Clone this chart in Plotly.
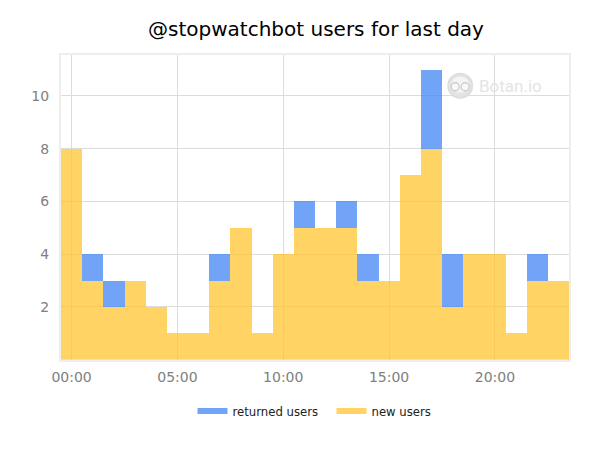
import plotly.graph_objects as go

hours = list(range(24))
new_users = [8, 3, 2, 3, 2, 1, 1, 3, 5, 1, 4, 5, 5, 5, 3, 3, 7, 8, 2, 4, 4, 1, 3, 3]
returned_users = [0, 1, 1, 0, 0, 0, 0, 1, 0, 0, 0, 1, 0, 1, 1, 0, 0, 3, 2, 0, 0, 0, 1, 0]
x_ticks = [0, 5, 10, 15, 20]
x_labels = ["00:00", "05:00", "10:00", "15:00", "20:00"]
y_ticks = [2, 4, 6, 8, 10]

BLUE = "rgba(66,133,244,0.75)"
YELLOW = "rgba(255,198,50,0.75)"
FONT = "DejaVu Sans"

# page body has an 8px margin, so the figure is 8px smaller than the window
W, H = 592, 442

fig = go.Figure()

# stacked bars, returned users sit on top of the new ones
fig.add_trace(go.Bar(x=hours, y=new_users, marker=dict(color=YELLOW, line_width=0), showlegend=False))
fig.add_trace(go.Bar(x=hours, y=returned_users, marker=dict(color=BLUE, line_width=0), showlegend=False))

# bar legend swatches are small squares, fill items come out wider like the original
fig.add_trace(go.Scatter(x=[None], y=[None], mode="none", fill="toself", fillcolor=BLUE, name="returned users"))
fig.add_trace(go.Scatter(x=[None], y=[None], mode="none", fill="toself", fillcolor=YELLOW, name="new users"))

fig.update_layout(
    barmode="stack",
    bargap=0,
    width=W,
    height=H,
    margin=dict(l=53, r=31, t=47, b=87),
    paper_bgcolor="white",
    plot_bgcolor="white",
    font=dict(family=FONT),
    title=dict(
        text="@stopwatchbot users for last day",
        font=dict(family=FONT, size=20, color="black"),
        x=308 / W,
        xanchor="center",
        y=1 - 21 / H,
        yanchor="middle",
    ),
    legend=dict(
        orientation="h",
        x=323.5 / W,
        xref="container",
        xanchor="center",
        y=1 - 403 / H,
        yref="container",
        yanchor="middle",
        font=dict(family=FONT, size=11.7, color="#222222"),
        traceorder="normal",
        itemwidth=30,
        entrywidth=94,
        entrywidthmode="pixels",
    ),
)

fig.update_xaxes(
    range=[-0.5, 23.5],
    tickvals=x_ticks,
    ticktext=x_labels,
    tickfont=dict(family=FONT, size=14, color="#808080"),
    ticklabelstandoff=3,
    showgrid=True,
    gridcolor="#dcdcdc",
    gridwidth=1,
    zeroline=False,
    showline=True,
    mirror=True,
    linecolor="#eeeeee",
    linewidth=2,
    ticks="",
    ticklen=0,
)
fig.update_yaxes(
    range=[0, 11.55],
    tickvals=y_ticks,
    tickfont=dict(family=FONT, size=14, color="#808080"),
    ticklabelstandoff=7,
    showgrid=True,
    gridcolor="#dcdcdc",
    gridwidth=1,
    zeroline=False,
    showline=True,
    mirror=True,
    linecolor="#eeeeee",
    linewidth=2,
    ticks="",
    ticklen=0,
)

# Botan.io watermark
mark_x = (461 - 61) / 509
mark_y = (361 - 85) / 307
fig.add_shape(
    type="rect",
    xref="paper", yref="paper",
    xsizemode="pixel", ysizemode="pixel",
    xanchor=mark_x, yanchor=mark_y,
    x0=-14, x1=81, y0=-13, y1=13,
    fillcolor="white", line_width=0,
    layer="between",
)
fig.add_annotation(
    text="Botan.io",
    xref="paper", yref="paper",
    x=mark_x, y=mark_y,
    xanchor="left", yanchor="middle",
    xshift=17,
    showarrow=False,
    font=dict(family="Roboto", size=17, color="#e4e4e4"),
)


def logo_part(x0, y0, x1, y1, **kw):
    fig.add_shape(
        type="circle",
        xref="paper", yref="paper",
        xsizemode="pixel", ysizemode="pixel",
        xanchor=mark_x, yanchor=mark_y,
        x0=x0, y0=y0, x1=x1, y1=y1,
        layer="above",
        **kw,
    )


logo_part(-12, -12, 12, 12, fillcolor="#e4e4e4", line=dict(color="#dedede", width=2))
logo_part(-9, -7, 9, 9, fillcolor="#f4f4f4", line_width=0)
logo_part(-9, -5, -1, 3, fillcolor="#f8f8f8", line=dict(color="#cccccc", width=1.3))
logo_part(1, -5, 9, 3, fillcolor="#f8f8f8", line=dict(color="#cccccc", width=1.3))

fig.write_html("out.html")
